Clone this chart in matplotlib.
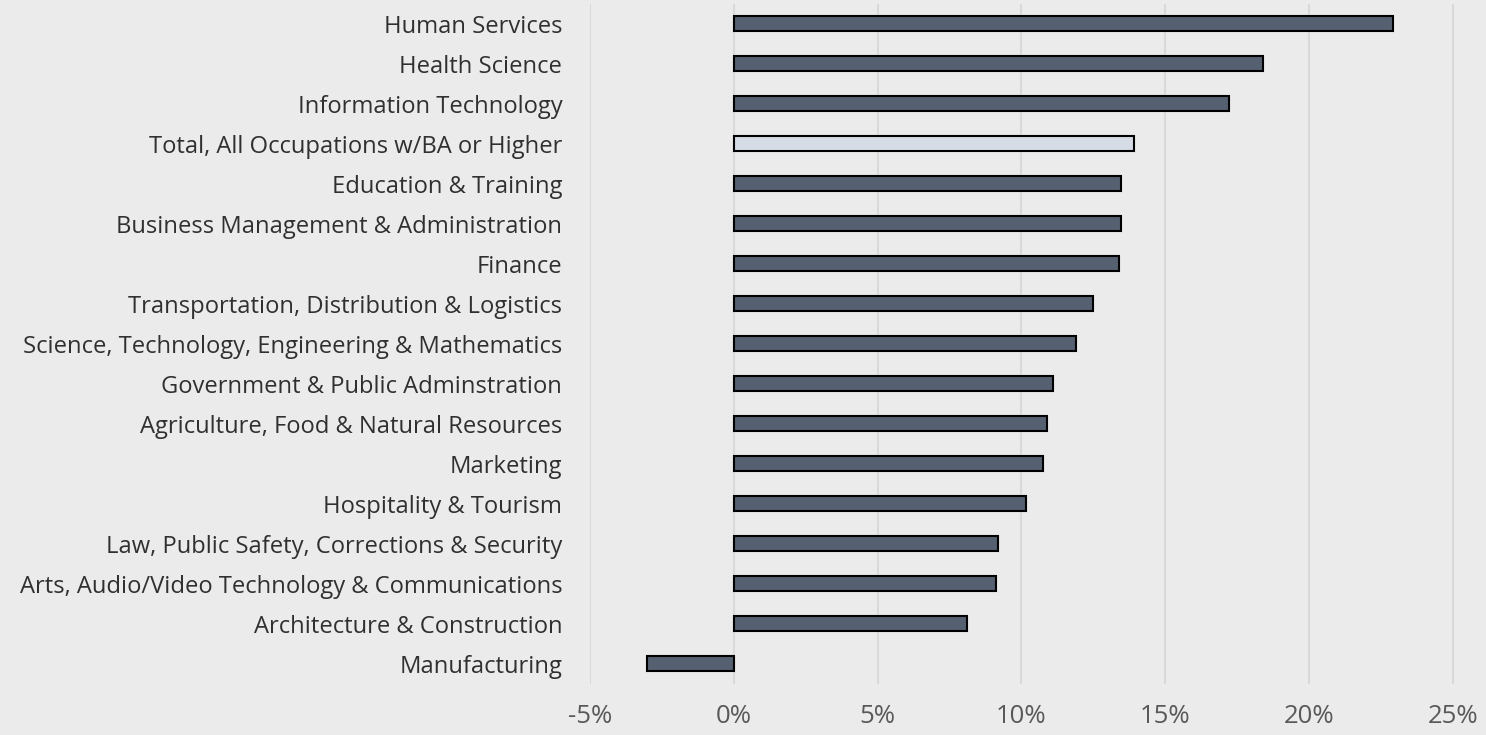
import matplotlib.pyplot as plt
from matplotlib.ticker import FuncFormatter

# Growth by career cluster, percent
categories = [
    'Human Services',
    'Health Science',
    'Information Technology',
    'Total, All Occupations w/BA or Higher',
    'Education & Training',
    'Business Management & Administration',
    'Finance',
    'Transportation, Distribution & Logistics',
    'Science, Technology, Engineering & Mathematics',
    'Government & Public Adminstration',
    'Agriculture, Food & Natural Resources',
    'Marketing',
    'Hospitality & Tourism',
    'Law, Public Safety, Corrections & Security',
    'Arts, Audio/Video Technology & Communications',
    'Architecture & Construction',
    'Manufacturing',
]
growth = [22.9, 18.4, 17.2, 13.9, 13.45, 13.45, 13.4, 12.5, 11.9, 11.1,
          10.9, 10.75, 10.15, 9.2, 9.1, 8.1, -3.0]
highlight = 'Total, All Occupations w/BA or Higher'
xticks = [-5, 0, 5, 10, 15, 20, 25]

plt.rcParams['font.family'] = ['Open Sans', 'DejaVu Sans']

fig = plt.figure(figsize=(14.86, 7.35), dpi=100)
fig.patch.set_facecolor('#ebebeb')
ax = fig.add_axes([0.397, 0.070, 0.5866, 0.925])
ax.set_facecolor('#ebebeb')

colors = ['#d6dce5' if c == highlight else '#556070' for c in categories]
ypos = list(range(len(categories)))
ax.barh(ypos, growth, height=0.38, color=colors, edgecolor='black',
        linewidth=1.5, zorder=3)

ax.set_xlim(-5, 25.3)
ax.set_ylim(len(categories) - 0.5, -0.5)
ax.set_xticks(xticks)
ax.xaxis.set_major_formatter(FuncFormatter(lambda v, p: '{:.0f}%'.format(v)))
ax.set_yticks(ypos)
ax.set_yticklabels(categories)

ax.grid(axis='x', color='#d9d9d9', linewidth=1.5, zorder=0)
for spine in ax.spines.values():
    spine.set_visible(False)
ax.tick_params(axis='both', length=0)
ax.tick_params(axis='y', labelsize=17.1, labelcolor='#303030', pad=20)
ax.tick_params(axis='x', labelsize=18.5, labelcolor='#595959', pad=15)

fig.savefig('out.png', dpi=100, facecolor=fig.get_facecolor())
